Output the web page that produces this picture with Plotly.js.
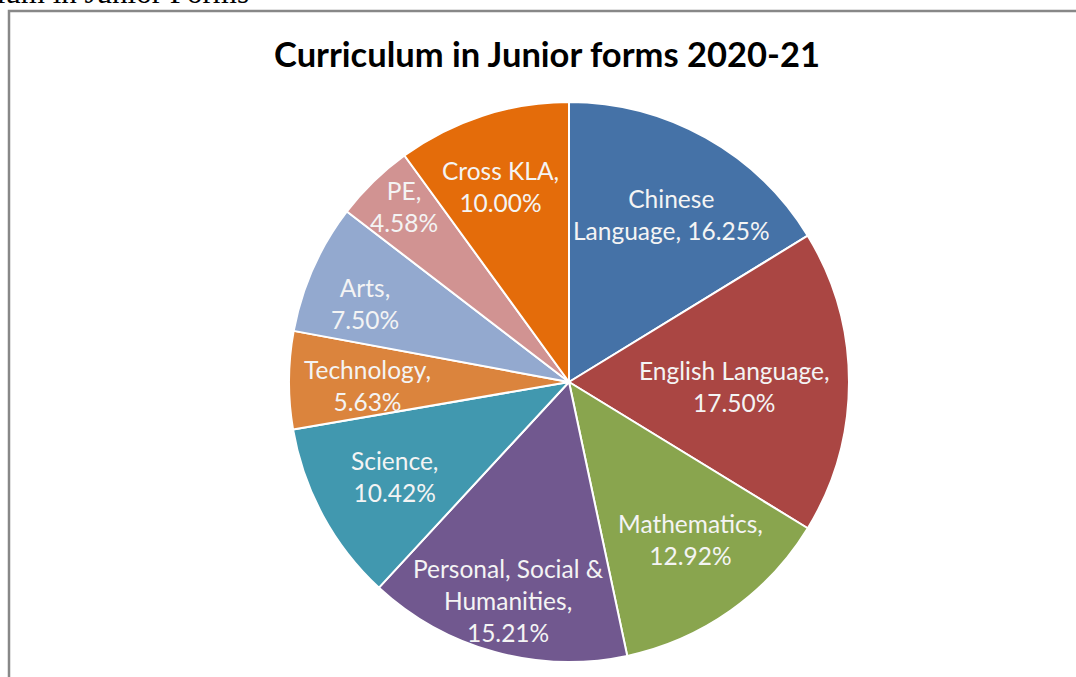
<!DOCTYPE html>
<html>
<head>
<meta charset="utf-8">
<script src="https://cdn.plot.ly/plotly-3.0.1.min.js"></script>
<style>
html,body{margin:0;padding:0;background:#fff;}
#chart{width:1076px;height:677px;}
</style>
</head>
<body>
<div id="chart"></div>
<script>
// Data
var categories = ['Chinese Language', 'English Language', 'Mathematics', 'Personal, Social & Humanities', 'Science', 'Technology', 'Arts', 'PE', 'Cross KLA'];
var values = [16.25, 17.50, 12.92, 15.21, 10.42, 5.63, 7.50, 4.58, 10.00];
var labelText = ['Chinese<br>Language, ', 'English Language,<br>', 'Mathematics,<br>', 'Personal, Social &<br>Humanities,<br>', 'Science,<br>', 'Technology,<br>', 'Arts,<br>', 'PE,<br>', 'Cross KLA,<br>'];
var colors = ['#4572A7', '#AA4643', '#89A54E', '#71588F', '#4198AF', '#DB843D', '#93A9CF', '#D19392', '#E46C0A'];

// Layout: data-label placement (fraction of radius, angle nudge in degrees)
var labelRadius = [0.70, 0.59, 0.71, 0.81, 0.71, 0.72, 0.78, 0.86, 0.74];
var labelNudge = [2.2, 1.7, -2.4, 0.2, 0.1, -1.3, -3.0, 1.1, -1.2];

var W = 1076, H = 677;
var cx = 569, cy = 382, r = 280;

var trace = {
  type: 'pie',
  labels: categories,
  values: values,
  textinfo: 'none',
  sort: false,
  direction: 'clockwise',
  rotation: 0,
  marker: {colors: colors, line: {color: '#ffffff', width: 2}},
  hoverinfo: 'none',
  showlegend: false,
  domain: {x: [(cx - r) / W, (cx + r) / W], y: [(H - cy - r) / H, (H - cy + r) / H]}
};

// Data labels placed at each slice's mid-angle (derived from the values)
var total = values.reduce(function (a, b) { return a + b; }, 0);
var annotations = [];
var cum = 0;
values.forEach(function (v, i) {
  var mid = (cum + v / 2) / total * 2 * Math.PI + labelNudge[i] * Math.PI / 180;
  cum += v;
  var rr = r * labelRadius[i];
  var px = cx + rr * Math.sin(mid);
  var py = cy - rr * Math.cos(mid);
  annotations.push({
    xref: 'paper', yref: 'paper', x: px / W, y: 1 - py / H,
    xanchor: 'center', yanchor: 'middle', showarrow: false, align: 'center',
    text: labelText[i] + v.toFixed(2) + '%',
    font: {family: 'Lato, sans-serif', size: 24.5, color: '#f4f4f4'}
  });
});

annotations.push({
  xref: 'paper', yref: 'paper', x: 251 / W, y: 1 - 12 / H,
  xanchor: 'right', yanchor: 'bottom', showarrow: false,
  text: 'Curriculum in Junior Forms',
  font: {family: 'Liberation Serif, serif', size: 31, color: '#000000'}
});

var layout = {
  width: W, height: H,
  margin: {l: 0, r: 0, t: 0, b: 0},
  paper_bgcolor: '#ffffff',
  showlegend: false,
  title: {
    text: '<b>Curriculum in Junior forms 2020-21</b>',
    font: {family: 'Lato, sans-serif', size: 34.5, color: '#000000'},
    x: 547 / W, xanchor: 'center',
    y: 1 - 55 / H, yanchor: 'middle'
  },
  shapes: [{
    type: 'rect', xref: 'paper', yref: 'paper',
    x0: 9 / W, x1: 1.02, y0: -0.02, y1: 1 - 11 / H,
    line: {color: '#888888', width: 2.5}, fillcolor: 'rgba(0,0,0,0)'
  }],
  annotations: annotations
};

Plotly.newPlot('chart', [trace], layout, {displayModeBar: false, staticPlot: true});
</script>
</body>
</html>
